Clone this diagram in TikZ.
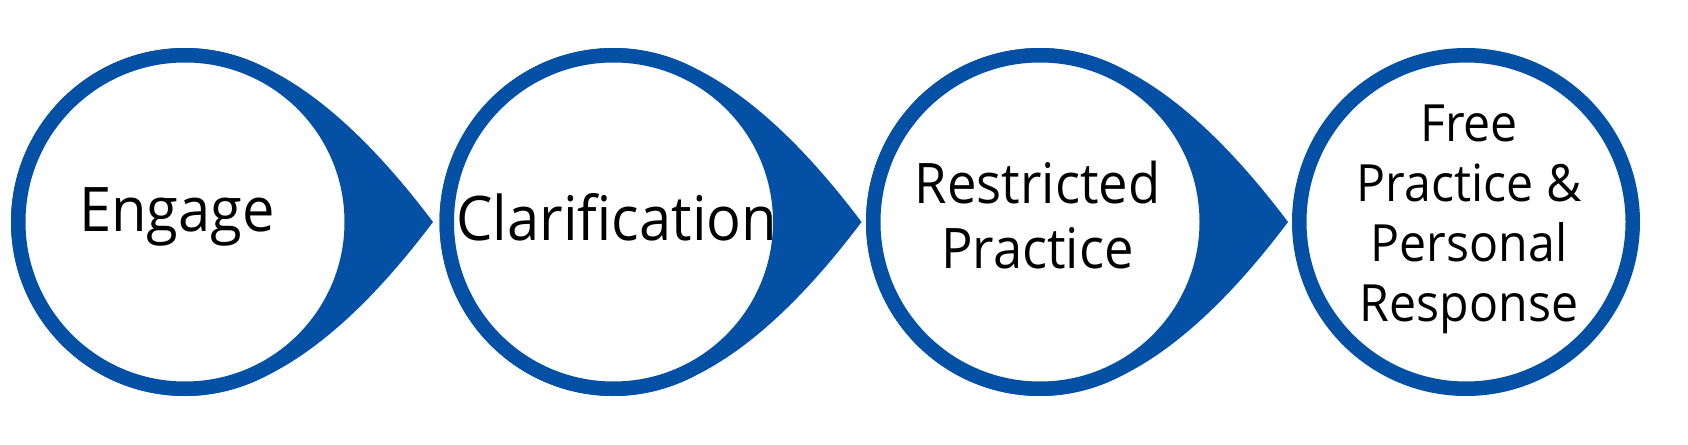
\documentclass[tikz,border=0pt]{standalone}
\usepackage{fontspec}
\setmainfont{Open Sans}[FakeStretch=0.94]
\usepackage{xcolor}
\usepackage{tikz}
\usetikzlibrary{positioning}

\definecolor{stepblue}{RGB}{4,80,164}

\tikzset{
  drop/.style={fill=stepblue},
  ring/.style={draw=stepblue, fill=white, line width=0.145cm},
  bigtext/.style={anchor=base, align=center, inner sep=0pt, font=\fontsize{17.5}{21}\selectfont},
  midtext/.style={anchor=base, align=center, inner sep=0pt, font=\fontsize{15.9}{18.5}\selectfont},
  smalltext/.style={anchor=base, align=center, inner sep=0pt, font=\fontsize{14.6}{17.07}\selectfont}
}

\begin{document}
\begin{tikzpicture}

\useasboundingbox (0,0) rectangle (16.88,4.44);

\coordinate (c1) at (1.85,2.22);
\coordinate (c2) at (6.135,2.22);
\coordinate (c3) at (10.40,2.22);
\coordinate (c4) at (14.66,2.22);

% pointed drops behind the first three rings
\foreach \x in {1.85,6.135,10.40}
{
\begin{scope}[shift={(\x,2.22)}]
\fill[drop] (0,1.74) .. controls (0.78,1.74) and (1.607,1.16) .. (2.48,0)
   .. controls (1.607,-1.16) and (0.78,-1.74) .. (0,-1.74) arc (270:90:1.74) -- cycle;
\end{scope}
}

\draw[ring] (c1) circle (1.6675);
\draw[ring] (c2) circle (1.6675);
\draw[ring] (c3) circle (1.6675);
\draw[ring] (c4) circle (1.6675);

% base of a multi-line node is its last line
\node[bigtext] (engage) at (1.77,2.123) {Engage};
\node[bigtext] (clarification) at (6.167,2.04) {Clarification};
\node[midtext] (restricted) at (10.375,1.757) {Restricted\\Practice};
\node[smalltext] (free) at (14.69,1.223) {Free\\Practice \&\\Personal\\Response};

\end{tikzpicture}
\end{document}
